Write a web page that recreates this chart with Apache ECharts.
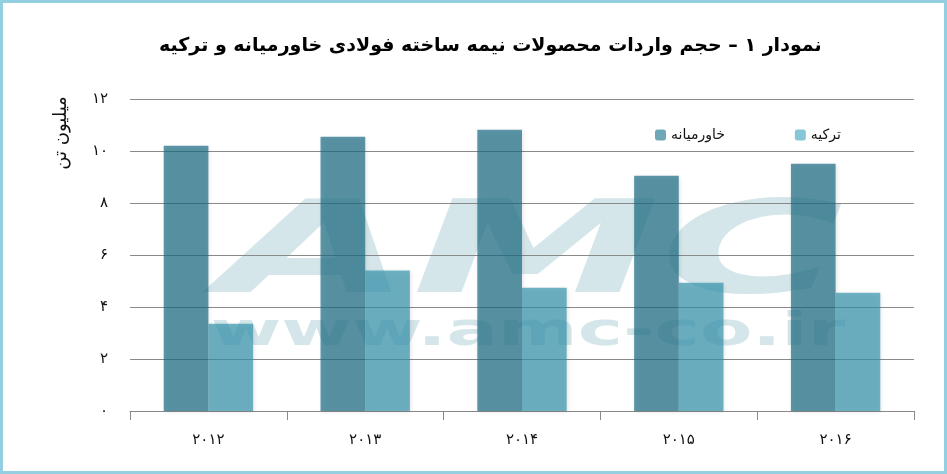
<!DOCTYPE html>
<html>
<head>
<meta charset="utf-8">
<script src="https://cdn.jsdelivr.net/npm/echarts@6/dist/echarts.min.js"></script>
<style>
html,body{margin:0;padding:0;background:#fff;}
#chart{width:947px;height:474px;}
</style>
</head>
<body>
<div id="chart"></div>
<script>
var titleText = 'نمودار ۱ – حجم واردات محصولات نیمه ساخته فولادی خاورمیانه و ترکیه';
var yAxisName = 'میلیون تن';
var categories = ['۲۰۱۲', '۲۰۱۳', '۲۰۱۴', '۲۰۱۵', '۲۰۱۶'];
var seriesNames = ['خاورمیانه', 'ترکیه'];
var middleEast = [10.2, 10.55, 10.82, 9.05, 9.51];
var turkey = [3.36, 5.4, 4.74, 4.93, 4.55];
var yTickLabels = ['۰', '۲', '۴', '۶', '۸', '۱۰', '۱۲'];
var watermarkBig = 'AMC';
var watermarkSmall = 'www.amc-co.ir';

var FONT = '"DejaVu Sans", "Noto Sans", sans-serif';
var chart = echarts.init(document.getElementById('chart'), null, {renderer: 'canvas'});

var option = {
  backgroundColor: '#ffffff',
  animation: false,
  title: {
    text: titleText,
    left: 154,
    top: 32,
    textStyle: {fontFamily: FONT, fontSize: 19, fontWeight: 'bold', color: '#000'}
  },
  legend: {
    left: 650,
    top: 123,
    itemWidth: 11,
    itemHeight: 11,
    itemGap: 70,
    textStyle: {fontFamily: FONT, fontSize: 14, color: '#111'},
    data: [
      {name: seriesNames[0], itemStyle: {color: '#6ea8b8', opacity: 1}},
      {name: seriesNames[1], itemStyle: {color: '#86c6d6', opacity: 1}}
    ]
  },
  grid: {left: 130, right: 33, top: 99, bottom: 63},
  graphic: [
    {
      type: 'rect', z: 100,
      shape: {x: 1.5, y: 1.5, width: 944, height: 471},
      style: {fill: 'none', stroke: '#93cfe0', lineWidth: 3}
    },
    {
      type: 'text', z: -10, x: 531, y: 259, scaleX: 1.95, scaleY: 1,
      style: {text: watermarkBig, x: 0, y: 0, textAlign: 'center', textVerticalAlign: 'middle',
        align: 'center', verticalAlign: 'middle',
        font: 'italic bold 128px ' + FONT, fill: '#d5e6eb'}
    },
    {
      type: 'text', z: -10, x: 528, y: 333, scaleX: 1.66, scaleY: 1,
      style: {text: watermarkSmall, x: 0, y: 0, textAlign: 'center', textVerticalAlign: 'middle',
        align: 'center', verticalAlign: 'middle',
        font: 'bold 46px ' + FONT, fill: '#d5e6eb'}
    },
    {
      type: 'text', z: 10, x: 61, y: 133, rotation: Math.PI / 2,
      style: {text: yAxisName, x: 0, y: 0, textAlign: 'center', textVerticalAlign: 'middle',
        align: 'center', verticalAlign: 'middle',
        font: '18px ' + FONT, fill: '#111'}
    }
  ],
  xAxis: {
    type: 'category',
    data: categories,
    axisLine: {lineStyle: {color: '#888', width: 1}},
    axisTick: {show: true, length: 9, lineStyle: {color: '#888'}},
    axisLabel: {fontFamily: FONT, fontSize: 15, color: '#111', margin: 22},
    splitLine: {show: false}
  },
  yAxis: {
    type: 'value',
    min: 0, max: 12, interval: 2,
    axisLine: {show: false},
    axisTick: {show: false},
    axisLabel: {
      fontFamily: FONT, fontSize: 15, color: '#111', margin: 22,
      formatter: function (v) { return yTickLabels[Math.round(v / 2)]; }
    },
    splitLine: {lineStyle: {color: '#8a8a8a', width: 1}}
  },
  series: [
    {
      name: seriesNames[0], type: 'bar', data: middleEast,
      barGap: '0%', barCategoryGap: '43%',
      itemStyle: {color: '#196c83', opacity: 0.7,
        shadowBlur: 4, shadowColor: 'rgba(0,0,0,0.15)', shadowOffsetX: 1, shadowOffsetY: 1}
    },
    {
      name: seriesNames[1], type: 'bar', data: turkey,
      barGap: '0%', barCategoryGap: '43%',
      itemStyle: {color: '#3594ae', opacity: 0.7,
        shadowBlur: 4, shadowColor: 'rgba(0,0,0,0.15)', shadowOffsetX: 1, shadowOffsetY: 1}
    }
  ]
};
chart.setOption(option);
</script>
</body>
</html>
